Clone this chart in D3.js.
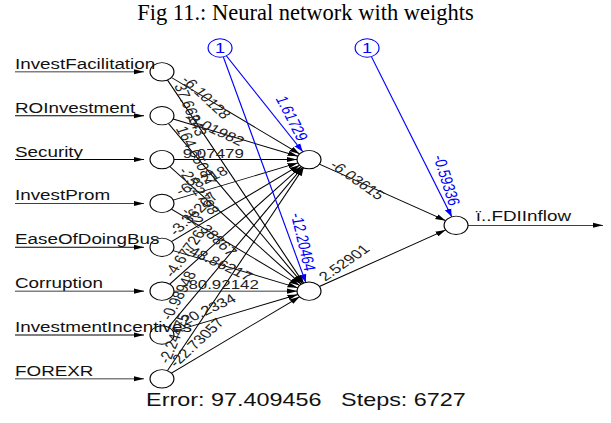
<!DOCTYPE html>
<html>
<head>
<meta charset="utf-8">
<script src="https://cdn.jsdelivr.net/npm/d3@7"></script>
<style>
  body { margin: 0; background: #fff; }
  text { font-family: Arial, "Liberation Sans", sans-serif; }
</style>
</head>
<body>
<div id="chart"></div>
<script>
// network structure and weights
var inputNames  = ["InvestFacilitation", "ROInvestment", "Security", "InvestProm",
                   "EaseOfDoingBus", "Corruption", "InvestmentIncentives", "FOREXR"];
var hiddenNames = ["H1", "H2"];
var outputNames = ["ï..FDIInflow"];

var weightsH1  = [-6.10128, -8.01982, 9.07479, -6.8218, -3.36267, -4.67726, -0.98948, -2.24475];
var weightsH2  = [37.66243, 164.65087, -25.2798, -12.38867, -48.86217, -80.92142, -20.2334, -22.73057];
var biasHidden = [1.61729, -12.20464];
var weightsOut = [-6.03615, 2.52901];
var biasOut    = [-0.59336];

var errorValue = "97.409456";
var stepsValue = 6727;
var titleText  = "Fig 11.: Neural network with weights";

var width = 611, height = 423;
var stretch = 1.3;   // the plot is widened horizontally
var r = 9.2;
var k = 1.55;        // labels are tilted a bit steeper than their lines

var svg = d3.select("#chart")
    .append("svg")
        .attr("width", width)
        .attr("height", height);

var defs = svg.append("defs");
[["arrow-black", "#000"], ["arrow-blue", "#0000ff"]].forEach(function (m) {
    defs.append("marker")
        .attr("id", m[0])
        .attr("markerUnits", "userSpaceOnUse")
        .attr("viewBox", "0 -3 8 6")
        .attr("refX", 8).attr("refY", 0)
        .attr("markerWidth", 8).attr("markerHeight", 6)
        .attr("orient", "auto")
      .append("path")
        .attr("d", "M0,-2.6L8,0L0,2.6Z")
        .attr("fill", m[1]);
});

// title
svg.append("text")
    .attr("x", width / 2)
    .attr("y", 20)
    .attr("text-anchor", "middle")
    .style("font-family", '"Liberation Serif", "Times New Roman", serif')
    .style("font-size", "22.5px")
    .text(titleText);

var g = svg.append("g")
    .attr("transform", "scale(" + stretch + ",1)");

var xScale = d3.scaleLinear().domain([0, 2]).range([124.6, 350.8]);
function layerY(names) {
    return d3.scalePoint().domain(names).range([28, 422.7]).padding(1);
}
var yIn = layerY(inputNames), yHid = layerY(hiddenNames), yOut = layerY(outputNames);
var biasY = 48;
var biasOffset = 0.395;

function fmt(v) { return String(+v.toFixed(5)); }

var edges = [];
inputNames.forEach(function (n, i) {
    edges.push({x1: xScale(0), y1: yIn(n), x2: xScale(1), y2: yHid("H1"), w: weightsH1[i], bias: false});
    edges.push({x1: xScale(0), y1: yIn(n), x2: xScale(1), y2: yHid("H2"), w: weightsH2[i], bias: false});
});
hiddenNames.forEach(function (h, j) {
    edges.push({x1: xScale(biasOffset), y1: biasY, x2: xScale(1), y2: yHid(h), w: biasHidden[j], bias: true});
    edges.push({x1: xScale(1), y1: yHid(h), x2: xScale(2), y2: yOut(outputNames[0]), w: weightsOut[j], bias: false});
});
outputNames.forEach(function (o, j) {
    edges.push({x1: xScale(1 + biasOffset), y1: biasY, x2: xScale(2), y2: yOut(o), w: biasOut[j], bias: true});
});

edges.forEach(function (e) {
    var dx = e.x2 - e.x1, dy = e.y2 - e.y1;
    var len = Math.sqrt(dx * dx + dy * dy);
    e.ux = dx / len; e.uy = dy / len;
    e.angle = Math.atan(k * dy / dx) * 180 / Math.PI;
});

// connections
g.selectAll(".edge")
    .data(edges)
    .enter()
    .append("line")
        .attr("class", "edge")
        .attr("x1", function (e) { return e.x1 + e.ux * r; })
        .attr("y1", function (e) { return e.y1 + e.uy * r; })
        .attr("x2", function (e) { return e.x2 - e.ux * r; })
        .attr("y2", function (e) { return e.y2 - e.uy * r; })
        .attr("stroke", function (e) { return e.bias ? "#0000ff" : "#000"; })
        .attr("stroke-width", 0.9)
        .attr("marker-end", function (e) { return e.bias ? "url(#arrow-blue)" : "url(#arrow-black)"; });

// input arrows
g.selectAll(".inArrow")
    .data(inputNames)
    .enter()
    .append("line")
        .attr("x1", 15 / stretch)
        .attr("x2", xScale(0) - r - 4.6)
        .attr("y1", function (d) { return yIn(d); })
        .attr("y2", function (d) { return yIn(d); })
        .attr("stroke", "#000")
        .attr("stroke-width", 0.9)
        .attr("marker-end", "url(#arrow-black)");

// output arrow
g.selectAll(".outArrow")
    .data(outputNames)
    .enter()
    .append("line")
        .attr("x1", xScale(2) + r)
        .attr("x2", 603 / stretch)
        .attr("y1", function (d) { return yOut(d); })
        .attr("y2", function (d) { return yOut(d); })
        .attr("stroke", "#000")
        .attr("stroke-width", 0.9)
        .attr("marker-end", "url(#arrow-black)");

// nodes
var nodes = [];
inputNames.forEach(function (n) { nodes.push({x: xScale(0), y: yIn(n)}); });
hiddenNames.forEach(function (n) { nodes.push({x: xScale(1), y: yHid(n)}); });
outputNames.forEach(function (n) { nodes.push({x: xScale(2), y: yOut(n)}); });

g.selectAll(".node")
    .data(nodes)
    .enter()
    .append("circle")
        .attr("cx", function (d) { return d.x; })
        .attr("cy", function (d) { return d.y; })
        .attr("r", r)
        .attr("fill", "#fff")
        .attr("stroke", "#000")
        .attr("stroke-width", 0.9);

// bias nodes
var biasNodes = [xScale(biasOffset), xScale(1 + biasOffset)];
g.selectAll(".biasNode")
    .data(biasNodes)
    .enter()
    .append("circle")
        .attr("cx", function (d) { return d; })
        .attr("cy", biasY)
        .attr("r", r)
        .attr("fill", "#fff")
        .attr("stroke", "#0000ff")
        .attr("stroke-width", 0.9);

g.selectAll(".biasLabel")
    .data(biasNodes)
    .enter()
    .append("text")
        .attr("x", function (d) { return d; })
        .attr("y", biasY)
        .attr("dy", "0.36em")
        .attr("text-anchor", "middle")
        .attr("fill", "#0000ff")
        .style("font-size", "14px")
        .text("1");

// input / output names
g.selectAll(".inLabel")
    .data(inputNames)
    .enter()
    .append("text")
        .attr("x", 15 / stretch)
        .attr("y", function (d) { return yIn(d) - 3; })
        .style("font-size", "14.5px")
        .attr("fill", "#111")
        .text(function (d) { return d; });

g.selectAll(".outLabel")
    .data(outputNames)
    .enter()
    .append("text")
        .attr("x", xScale(2) + r + 6)
        .attr("y", function (d) { return yOut(d) - 4; })
        .style("font-size", "14.5px")
        .attr("fill", "#111")
        .text(function (d) { return d; });

// weight labels
g.selectAll(".wLabel")
    .data(edges)
    .enter()
    .append("text")
        .attr("transform", function (e) {
            var px, py;
            if (e.bias) { px = e.x2 - e.ux * 20; py = e.y2 - e.uy * 20; }
            else { px = e.x1 + e.ux * 16; py = e.y1 + e.uy * 16; }
            return "translate(" + px + "," + py + ") rotate(" + e.angle + ")";
        })
        .attr("dy", "-0.15em")
        .attr("text-anchor", function (e) { return e.bias ? "end" : "start"; })
        .attr("fill", function (e) { return e.bias ? "#0000ff" : "#222"; })
        .style("font-size", "13px")
        .text(function (e) { return fmt(e.w); });

// error line
g.append("text")
    .attr("x", 306 / stretch)
    .attr("y", 406)
    .attr("text-anchor", "middle")
    .style("font-size", "18px")
    .style("white-space", "pre")
    .attr("fill", "#111")
    .text("Error: " + errorValue + "   Steps: " + stepsValue);
</script>
</body>
</html>
